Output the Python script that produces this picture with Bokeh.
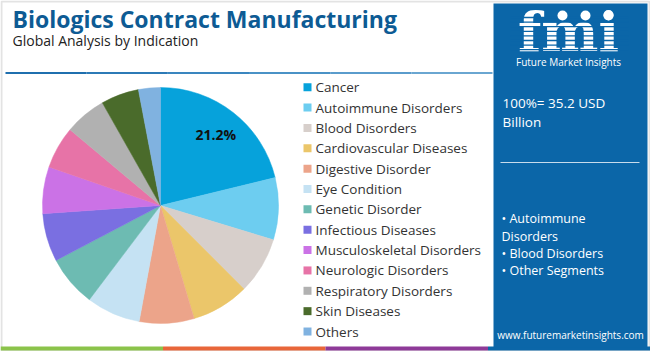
from bokeh.plotting import figure
from bokeh.models import Range1d, ColumnDataSource
from bokeh.core.properties import value
from bokeh.embed import file_html
from bokeh.resources import INLINE
import math

W, H = 650, 351

title = "Biologics Contract Manufacturing"
subtitle = "Global Analysis by Indication"
categories = ["Cancer", "Autoimmune Disorders", "Blood Disorders", "Cardiovascular Diseases",
              "Digestive Disorder", "Eye Condition", "Genetic Disorder", "Infectious Diseases",
              "Musculoskeletal Disorders", "Neurologic Disorders", "Respiratory Disorders",
              "Skin Diseases", "Others"]
shares = [21.2, 8.5, 7.8, 7.9, 7.5, 7.4, 7.0, 6.6, 6.4, 5.8, 5.7, 5.2, 3.0]
colors = ["#06a2db", "#6dcdf0", "#d7cfcb", "#ebc66a", "#eca48a", "#c5e2f3", "#6dbbb2",
          "#7a6fe1", "#cb72e6", "#e773a7", "#b1b1b1", "#4a6b2b", "#80b2e0"]
total_label = ["100%= 35.2 USD", "Billion"]
key_segments = ["\u2022 Autoimmune", "Disorders", "\u2022 Blood Disorders", "\u2022 Other Segments"]
site = "www.futuremarketinsights.com"

FONT = "Open Sans"

p = figure(width=W, height=H, x_range=Range1d(0, W), y_range=Range1d(0, H),
           output_backend="svg", toolbar_location=None, min_border=0)
p.axis.visible = False
p.grid.visible = False
p.outline_line_color = None
p.background_fill_color = "white"
p.border_fill_color = "white"

def Y(py):
    return H - py

# outer light frame
p.quad(left=[1], right=[W - 1], top=[Y(1)], bottom=[Y(H - 1)], fill_color=None,
       line_color="#e3e3e3", line_width=2)

# title
p.text(x=[12], y=[Y(18)], text=[title], text_font=value(FONT), text_font_style="bold",
       text_font_size="23px", text_color="#0d5b94", text_baseline="middle")
p.text(x=[12], y=[Y(40)], text=[subtitle], text_font=value(FONT),
       text_font_size="14px", text_color="#222222", text_baseline="middle")

# header gradient line
grad = ["#1f6fae", "#2c7ab6", "#3a86bf", "#4a92c6", "#5a9ccc", "#6aa6d1"]
seg = (492 - 5) / len(grad)
for i, c in enumerate(grad):
    p.segment(x0=[5 + i * seg], y0=[Y(72.5)], x1=[5 + (i + 1) * seg], y1=[Y(72.5)],
              line_color=c, line_width=2)

# pie
cx, cy, r = 160, 205, 118
starts, ends = [], []
acc = 0.0
tot = sum(shares)
for s in shares:
    starts.append(math.pi / 2 - acc / tot * 2 * math.pi)
    acc += s
    ends.append(math.pi / 2 - acc / tot * 2 * math.pi)
src = ColumnDataSource(dict(start=starts, end=ends, color=colors))
p.wedge(x=cx, y=Y(cy), radius=r, radius_units="screen", start_angle="start",
        end_angle="end", direction="clock", fill_color="color", line_color="color",
        line_width=0.5, source=src)
mid = (starts[0] + ends[0]) / 2
p.text(x=[cx + 0.76 * r * math.cos(mid)], y=[Y(cy) + 0.76 * r * math.sin(mid)],
       text=[f"{shares[0]}%"], text_font=value(FONT), text_font_style="bold",
       text_font_size="14px", text_color="#111111", text_align="center",
       text_baseline="middle")

# legend
ly = [Y(86.7 + 20.36 * i) for i in range(len(categories))]
p.scatter(x=[307] * len(categories), y=ly, marker="square", size=8, fill_color=colors,
          line_color=None)
p.text(x=[315] * len(categories), y=ly, text=categories, text_font=value(FONT),
       text_font_size="13.5px", text_color="#333333", text_baseline="middle")

# bottom stripe
stripe = ["#8bc34a", "#e8663a", "#8e3a98", "#0b66a8"]
sw = W / 4
for i, c in enumerate(stripe):
    p.quad(left=[i * sw], right=[(i + 1) * sw], top=[Y(346)], bottom=[Y(350)],
           fill_color=c, line_color=None)

# right panel
p.quad(left=[493], right=[647], top=[Y(3)], bottom=[Y(347)], fill_color="#0b66a8",
       line_color=None)
p.text(x=[568], y=[Y(31)], text=["fmi"], text_font=value("DejaVu Serif"),
       text_font_style="bold", text_font_size="54px", text_color="white",
       text_align="center", text_baseline="middle")
for k in range(8):
    yy = 17 + k * 4.6
    p.segment(x0=[510], y0=[Y(yy)], x1=[628], y1=[Y(yy)], line_color="#0b66a8",
              line_width=1.3)
p.scatter(x=[562, 585, 608], y=[Y(15)] * 3, marker="circle", size=10,
          fill_color="white", line_color=None)
p.text(x=[568], y=[Y(61)], text=["Future Market Insights"], text_font=value(FONT),
       text_font_size="10px", text_color="white", text_align="center",
       text_baseline="middle")
p.text(x=[502] * 2, y=[Y(102), Y(121)], text=total_label, text_font=value(FONT),
       text_font_size="13.5px", text_color="white", text_baseline="middle")
p.segment(x0=[500], y0=[Y(162)], x1=[639], y1=[Y(162)], line_color="#c8dcec",
          line_width=1)
p.text(x=[501] * 4, y=[Y(218), Y(235.5), Y(253), Y(270)], text=key_segments,
       text_font=value(FONT), text_font_size="12.5px", text_color="white",
       text_baseline="middle")
p.text(x=[570], y=[Y(334)], text=[site], text_font=value(FONT), text_font_size="10px",
       text_color="white", text_align="center", text_baseline="middle")

open("out.html", "w").write(file_html(p, INLINE))
